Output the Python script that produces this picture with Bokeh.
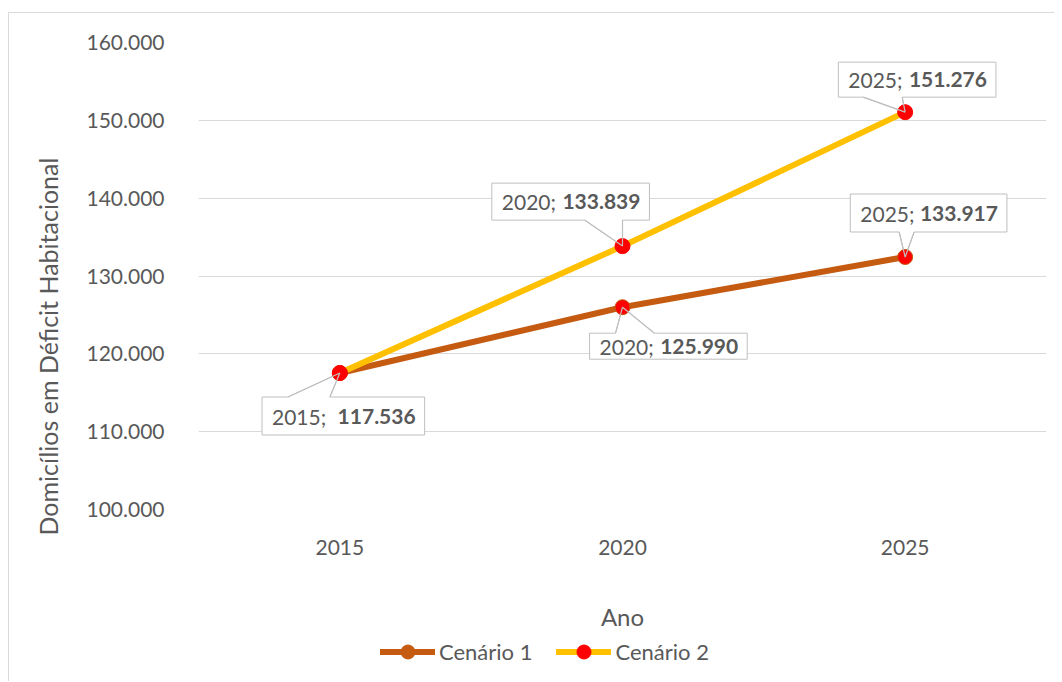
import math
from bokeh.plotting import figure
from bokeh.layouts import column
from bokeh.models import FixedTicker, Legend, LegendItem, ColumnDataSource, Title
from bokeh.core.properties import value
from bokeh.embed import file_html
from bokeh.resources import INLINE

# ---------------- data ----------------
years = ["2015", "2020", "2025"]
cenario1 = [117536, 125990, 132440]
cenario2 = [117536, 133839, 151050]
series_names = ["Cenário 1", "Cenário 2"]
y_ticks = [100000, 110000, 120000, 130000, 140000, 150000, 160000]
label_years = ["2015;", "2020;", "2025;", "2025;", "2020;"]
label_values = ["117.536", "133.839", "151.276", "133.917", "125.990"]
label_series = [0, 1, 1, 0, 0]
label_index = [0, 1, 2, 2, 1]
y_title = "Domicílios em Déficit Habitacional"
x_title = "Ano"

# ---------------- styles ----------------
FONT = "Lato"
TXT = "#595959"
GRID = "#D9D9D9"
C1 = "#C55A11"
C2 = "#FFC000"
RED = "#FF0000"

FRAME_W = 850
FRAME_H = 467
Y0, Y1 = 100000, 160000
PXX = FRAME_W / 3.0
PXY = FRAME_H / (Y1 - Y0)

# callout offsets in pixels relative to point: L, R, T, B, side, w0, w1
callouts = [
    (-78, 85, 24, 62, "top", -52, -10),
    (-131, 27, -63, -26, "bottom", -38, 0),
    (-67, 91, -50, -15, "bottom", -42, -3),
    (-55, 102, -63, -25, "bottom", -6, 9),
    (-33, 125, 26, 52, "top", -7, 32),
]

xs_idx = list(range(len(years)))
series = [cenario1, cenario2]

W = 1045
H_MAIN = 620
H_LEG = 48

p = figure(width=W, height=H_MAIN, output_backend="svg", toolbar_location=None,
           x_range=(-0.5, len(years) - 0.5), y_range=(Y0, Y1),
           min_border_left=187, min_border_right=8, min_border_top=29,
           min_border_bottom=H_MAIN - 29 - FRAME_H)
p.outline_line_color = None
p.background_fill_color = "white"
p.border_fill_color = "white"

p.xgrid.visible = False
p.ygrid.grid_line_color = GRID
p.ygrid.grid_line_width = 1
p.ygrid.ticker = FixedTicker(ticks=y_ticks)

p.yaxis.ticker = FixedTicker(ticks=y_ticks)
p.yaxis.major_label_overrides = {t: f"{t:,}".replace(",", ".") for t in y_ticks}
p.xaxis.ticker = FixedTicker(ticks=xs_idx)
p.xaxis.major_label_overrides = {i: y for i, y in zip(xs_idx, years)}
for ax in (p.xaxis, p.yaxis):
    ax.axis_line_color = None
    ax.major_tick_line_color = None
    ax.minor_tick_line_color = None
    ax.major_label_text_font = FONT
    ax.major_label_text_font_size = "21px"
    ax.major_label_text_color = TXT
p.yaxis.major_label_standoff = 28
p.xaxis.major_label_standoff = 24
p.xaxis.axis_label = x_title
p.xaxis.axis_label_text_font = FONT
p.xaxis.axis_label_text_font_size = "24px"
p.xaxis.axis_label_text_font_style = "normal"
p.xaxis.axis_label_text_color = TXT
p.xaxis.axis_label_standoff = 44


def to_data(i, v, ox, oy):
    return i + ox / PXX, v - oy / PXY


# series lines
r_l1 = p.line(xs_idx, cenario1, line_color=C1, line_width=6, line_cap="round")
r_l2 = p.line(xs_idx, cenario2, line_color=C2, line_width=6, line_cap="round")

# callout boxes
pxs, pys, lxs, lys = [], [], [], []
tx_l, tx_r, ty = [], [], []
for k, (L, R, T, B, side, w0, w1) in enumerate(callouts):
    i = label_index[k]
    v = series[label_series[k]][i]
    if side == "top":
        pts = [(L, T), (w0, T), (0, 0), (w1, T), (R, T), (R, B), (L, B)]
        wedge = [(w0, T), (0, 0), (w1, T)]
    else:
        pts = [(L, T), (R, T), (R, B), (w1, B), (0, 0), (w0, B), (L, B)]
        wedge = [(w0, B), (0, 0), (w1, B)]
    dpts = [to_data(i, v, a, b) for a, b in pts]
    pxs.append([q_[0] for q_ in dpts])
    pys.append([q_[1] for q_ in dpts])
    wpts = [to_data(i, v, a, b) for a, b in wedge]
    lxs.append([q_[0] for q_ in wpts])
    lys.append([q_[1] for q_ in wpts])
    xl, ym = to_data(i, v, L + 10, (T + B) / 2.0)
    xr, _ = to_data(i, v, R - 9, 0)
    tx_l.append(xl)
    tx_r.append(xr)
    ty.append(ym)

p.patches(pxs, pys, fill_color="white", line_color="#BFBFBF", line_width=1)

# markers
p.scatter(xs_idx, cenario1, size=15, fill_color=RED, line_color=C1, line_width=1)
p.scatter(xs_idx, cenario2, size=15, fill_color=RED, line_color=RED, line_width=1)

p.multi_line(lxs, lys, line_color="#BFBFBF", line_width=1.2)

p.text(tx_l, ty, text=label_years, text_font=value(FONT), text_font_size="21px",
       text_color=TXT, text_align="left", text_baseline="middle")
p.text(tx_r, ty, text=label_values, text_font=value(FONT), text_font_size="21px",
       text_color=TXT, text_align="right", text_baseline="middle",
       text_font_style="bold")

# y axis title (side title, offset along the axis from the frame bottom)
p.add_layout(Title(text=y_title, align="left", offset=-42, text_font=FONT,
                   text_font_size="25px", text_font_style="normal",
                   text_color=TXT, padding=16), "left")

# ---------------- legend strip ----------------
q = figure(width=W, height=H_LEG, output_backend="svg", toolbar_location=None,
           x_range=(0, 1), y_range=(0, 1), min_border=0)
q.axis.visible = False
q.grid.visible = False
q.outline_line_color = None
q.background_fill_color = "white"
q.border_fill_color = "white"
leg_src = ColumnDataSource(data=dict(x=[-10, -9], y=[-10, -9]))
l1 = q.line("x", "y", source=leg_src, line_color=C1, line_width=6, line_cap="round")
l2 = q.line("x", "y", source=leg_src, line_color=C2, line_width=6, line_cap="round")
d1 = q.scatter("x", "y", source=leg_src, size=15, fill_color=C1, line_color=C1)
d2 = q.scatter("x", "y", source=leg_src, size=15, fill_color=RED, line_color=RED)
legend = Legend(items=[LegendItem(label=series_names[0], renderers=[l1, d1]),
                       LegendItem(label=series_names[1], renderers=[l2, d2])],
                orientation="horizontal", location=(182, 12),
                glyph_width=55, glyph_height=35, label_height=35,
                label_standoff=4, spacing=24, padding=0, margin=0,
                label_text_font=FONT, label_text_font_size="22px",
                label_text_color=TXT, border_line_color=None,
                background_fill_alpha=0)
q.add_layout(legend)

layout = column(p, q, spacing=0)
layout.margin = (12, 0, 0, 8)
layout.styles = {"border-top": "1px solid #D9D9D9", "border-left": "1px solid #D9D9D9"}

open("out.html", "w").write(file_html(layout, INLINE))
